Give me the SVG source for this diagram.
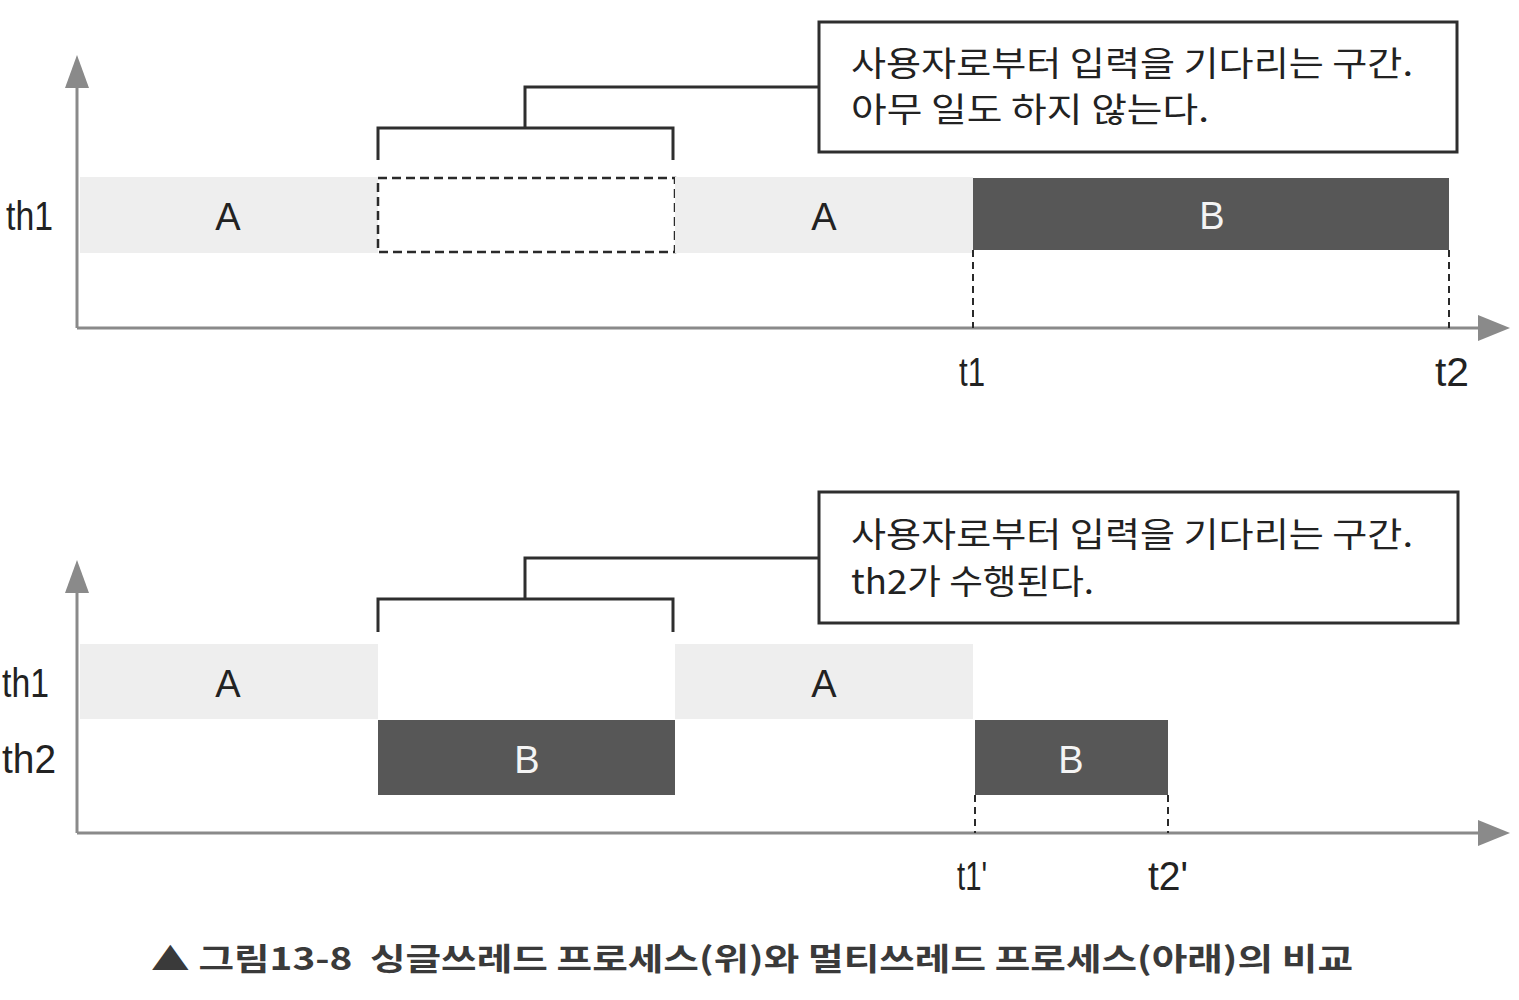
<svg xmlns="http://www.w3.org/2000/svg" width="1519" height="1000" viewBox="0 0 1519 1000">
<style>
.axis{stroke:#8a8a8a;stroke-width:3;fill:none}
.ah{fill:#8a8a8a}
.light{fill:#eeeeee}
.dark{fill:#575757}
.brk{stroke:#2e2e2e;stroke-width:3;fill:none}
.box{fill:#fff;stroke:#2e2e2e;stroke-width:3}
.dash{stroke:#2a2a2a;stroke-width:2;stroke-dasharray:7 5;fill:none}
.dashr{stroke:#2a2a2a;stroke-width:2.5;stroke-dasharray:9 5;fill:none}
.lbl{font-family:"Liberation Sans",Arial,sans-serif;font-size:40px;fill:#222}
.bar{font-family:"Liberation Sans",Arial,sans-serif;font-size:38px;text-anchor:middle}
.ko{font-family:"Noto Sans CJK KR",sans-serif;font-size:34px;fill:#222}
.cap{font-family:"Noto Sans CJK KR",sans-serif;font-size:31px;font-weight:bold;fill:#3a3a3a}
</style>
<rect width="1519" height="1000" fill="#fff"/>

<!-- Top chart -->
<g id="top-axes">
<line class="axis" x1="77" y1="80" x2="77" y2="328"/>
<polygon class="ah" points="77,55 65,88 89,88"/>
<line class="axis" x1="77" y1="328" x2="1482" y2="328"/>
<polygon class="ah" points="1510,328 1478,315 1478,341"/>
</g>
<g id="top-th1-label"><text class="lbl" x="6" y="230" textLength="47" lengthAdjust="spacingAndGlyphs">th1</text></g>
<g id="top-A1"><rect class="light" x="80" y="177" width="298" height="76"/><text class="bar" x="228" y="230" fill="#222">A</text></g>
<g id="top-wait"><rect class="dashr" x="378" y="178" width="297" height="74"/></g>
<g id="top-A2"><rect class="light" x="675" y="177" width="298" height="76"/><text class="bar" x="824" y="230" fill="#222">A</text></g>
<g id="top-B"><rect class="dark" x="973" y="178" width="476" height="72"/><text class="bar" x="1212" y="229" fill="#f4f4f4">B</text></g>
<g id="top-callout">
<rect class="box" x="819" y="22" width="638" height="130"/>
<text class="ko" x="851" y="76" textLength="562" lengthAdjust="spacingAndGlyphs">사용자로부터 입력을 기다리는 구간.</text>
<text class="ko" x="851" y="122" textLength="358" lengthAdjust="spacingAndGlyphs">아무 일도 하지 않는다.</text>
</g>
<g id="top-t1"><text class="lbl" x="972" y="386" text-anchor="middle" font-size="38" textLength="26" lengthAdjust="spacingAndGlyphs">t1</text></g>
<g id="top-t2"><text class="lbl" x="1452" y="386" text-anchor="middle" font-size="38" textLength="34" lengthAdjust="spacingAndGlyphs">t2</text></g>

<!-- Bottom chart -->
<g id="bottom-axes">
<line class="axis" x1="77" y1="585" x2="77" y2="833"/>
<polygon class="ah" points="77,560 65,593 89,593"/>
<line class="axis" x1="77" y1="833" x2="1482" y2="833"/>
<polygon class="ah" points="1510,833 1478,820 1478,846"/>
</g>
<g id="bottom-th1-label"><text class="lbl" x="2" y="697" textLength="47" lengthAdjust="spacingAndGlyphs">th1</text></g>
<g id="bottom-th2-label"><text class="lbl" x="2" y="773" textLength="54" lengthAdjust="spacingAndGlyphs">th2</text></g>
<g id="bottom-A1"><rect class="light" x="80" y="644" width="298" height="75"/><text class="bar" x="228" y="697" fill="#222">A</text></g>
<g id="bottom-A2"><rect class="light" x="675" y="644" width="298" height="75"/><text class="bar" x="824" y="697" fill="#222">A</text></g>
<g id="bottom-B1"><rect class="dark" x="378" y="720" width="297" height="75"/><text class="bar" x="527" y="773" fill="#f4f4f4">B</text></g>
<g id="bottom-B2"><rect class="dark" x="975" y="720" width="193" height="75"/><text class="bar" x="1071" y="773" fill="#f4f4f4">B</text></g>
<g id="bottom-callout">
<rect class="box" x="819" y="492" width="639" height="131"/>
<text class="ko" x="851" y="547" textLength="562" lengthAdjust="spacingAndGlyphs">사용자로부터 입력을 기다리는 구간.</text>
<text class="ko" x="851" y="594" textLength="243" lengthAdjust="spacingAndGlyphs">th2가 수행된다.</text>
</g>
<g id="bottom-t1p"><text class="lbl" x="972" y="890" text-anchor="middle" font-size="38" textLength="30" lengthAdjust="spacingAndGlyphs">t1'</text></g>
<g id="bottom-t2p"><text class="lbl" x="1168" y="890" text-anchor="middle" font-size="38" textLength="40" lengthAdjust="spacingAndGlyphs">t2'</text></g>

<g id="connectors">
<polyline class="brk" points="378,160 378,128 673,128 673,160"/>
<polyline class="brk" points="525,128 525,87 819,87"/>
<line class="dash" x1="973" y1="250" x2="973" y2="328"/>
<line class="dash" x1="1449" y1="250" x2="1449" y2="328"/>
<polyline class="brk" points="378,632 378,599 673,599 673,632"/>
<polyline class="brk" points="525,599 525,558 819,558"/>
<line class="dash" x1="975" y1="795" x2="975" y2="833"/>
<line class="dash" x1="1168" y1="795" x2="1168" y2="833"/>
</g>

<g id="caption"><text class="cap" xml:space="preserve" x="151" y="970" textLength="1202" lengthAdjust="spacingAndGlyphs">▲ 그림13-8  싱글쓰레드 프로세스(위)와 멀티쓰레드 프로세스(아래)의 비교</text></g>
</svg>
